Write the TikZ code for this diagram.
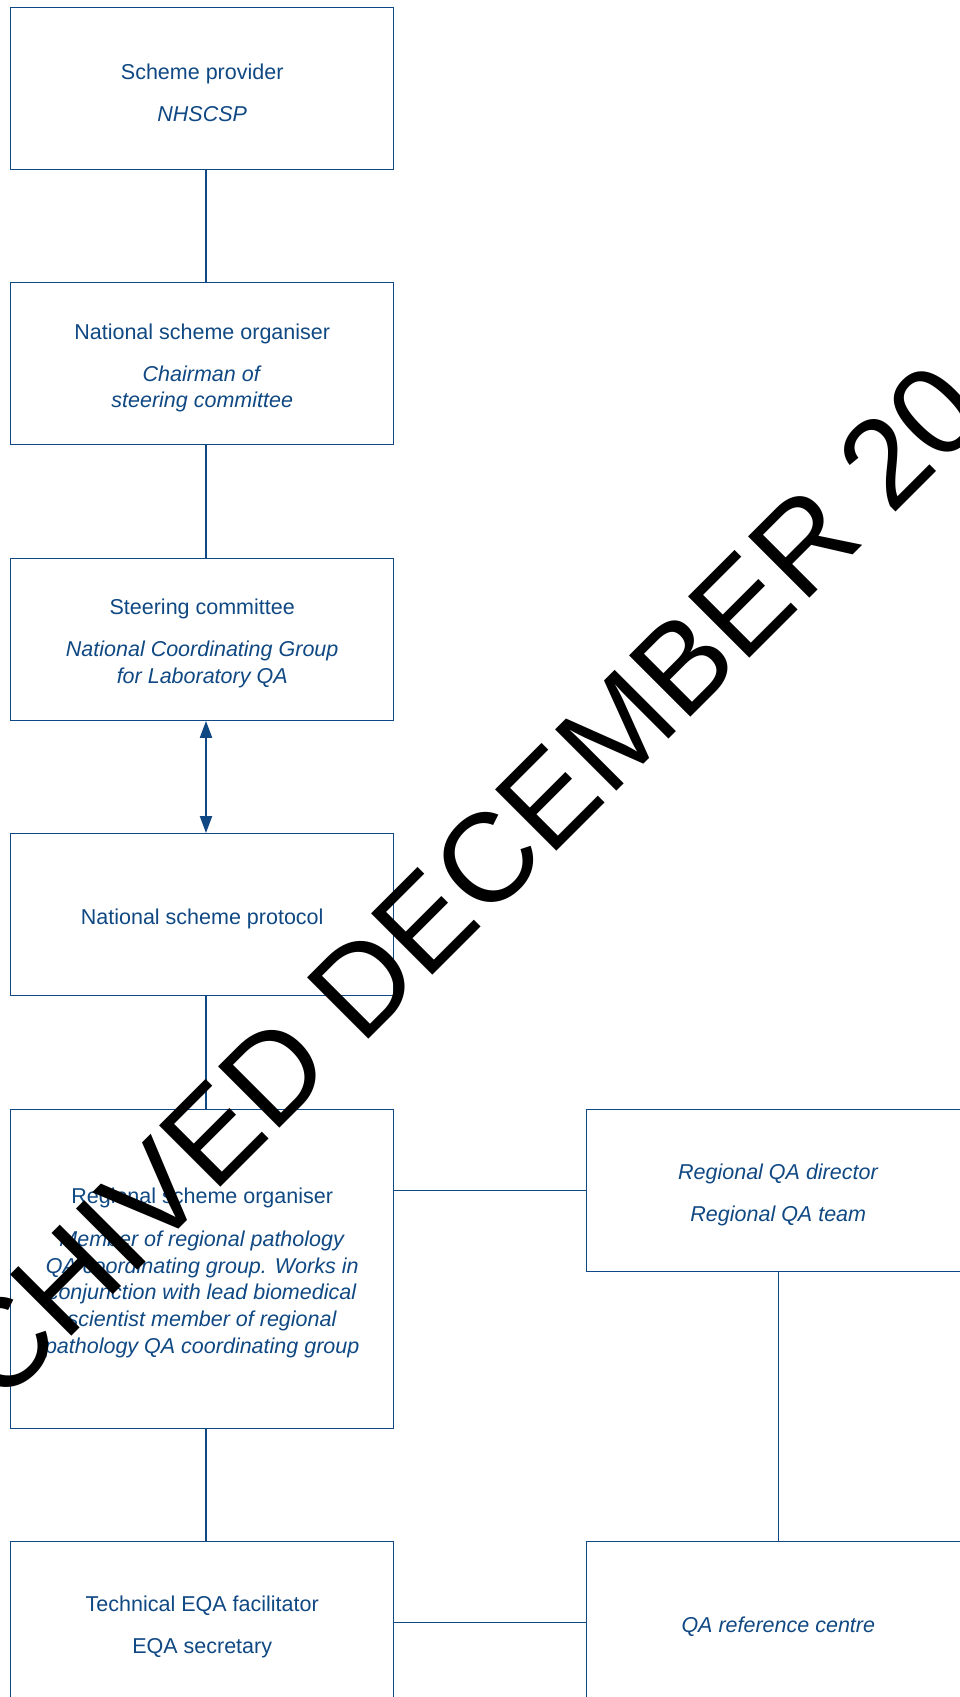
\documentclass[tikz,border=0pt]{standalone}
\usepackage{fontspec}
\setmainfont{Liberation Sans}
\usepackage{tikz}
\usetikzlibrary{arrows.meta}

\definecolor{qablue}{RGB}{15,72,130}
\newcommand{\orgfont}{\fontsize{21.5}{26.7}\selectfont}
\newcommand{\stampfont}{\fontsize{126}{130}\selectfont}
\newcommand{\lift}{\rule{0pt}{24pt}}  % pushes the text a little below the middle

\begin{document}
\begin{tikzpicture}[x=1pt, y=-1pt,  % work in page pixels, y going down
    orgbox/.style={draw=qablue, line width=1.1pt, text=qablue, font=\orgfont,
        minimum width=383pt, minimum height=162pt, inner sep=0pt, align=center},
    orglink/.style={draw=qablue, line width=1.2pt},
    stamp/.style={text=black, font=\stampfont, inner sep=0pt, rotate=45, anchor=base west}]

    % Page frame, everything outside is cut away
    \useasboundingbox (0,0) rectangle (960,1697);
    \clip (0,0) rectangle (960,1697);

    % Left column of the chain
    \node[orgbox] (provider) at (202.2,88.3) {\lift Scheme provider\\[15.3pt]\textit{NHSCSP}};
    \node[orgbox] (organiser) at (202.2,363.8) {\lift National scheme organiser\\[15.3pt]\textit{Chairman of}\\\textit{steering committee}};
    \node[orgbox] (steering) at (202.2,639.3) {\lift Steering committee\\[15.3pt]\textit{National Coordinating Group}\\\textit{for Laboratory QA}};
    \node[orgbox] (protocol) at (202.2,914.6) {\lift National scheme protocol};
    \node[orgbox, minimum height=319pt] (regional) at (202.2,1268.8) {\lift Regional scheme organiser\\[16pt]%
        \textit{Member of regional pathology}\\\textit{QA coordinating group. Works in}\\%
        \textit{conjunction with lead biomedical}\\\textit{scientist member of regional}\\%
        \textit{pathology QA coordinating group}};
    \node[orgbox] (technical) at (202.2,1622.7) {\lift Technical EQA facilitator\\[15.3pt]EQA secretary};

    % Right column
    \node[orgbox] (director) at (778.3,1190.5) {\lift\textit{Regional QA director}\\[15.3pt]\textit{Regional QA team}};
    \node[orgbox] (refcentre) at (778.3,1622.7) {\lift\textit{QA reference centre}};

    % Vertical links on the left (slightly right of the box middle)
    \draw[orglink] ([xshift=3.8pt]provider.south) -- ([xshift=3.8pt]organiser.north);
    \draw[orglink] ([xshift=3.8pt]organiser.south) -- ([xshift=3.8pt]steering.north);
    \draw[orglink, line width=2pt, {Triangle[length=17pt,width=12pt]}-{Triangle[length=17pt,width=12pt]}]
        ([xshift=3.8pt]steering.south) -- ([xshift=3.8pt]protocol.north);
    \draw[orglink] ([xshift=3.8pt]protocol.south) -- ([xshift=3.8pt]regional.north);
    \draw[orglink] ([xshift=3.8pt]regional.south) -- ([xshift=3.8pt]technical.north);

    % Links across and on the right
    \draw[orglink] (director.west -| regional.east) -- (director.west);
    \draw[orglink] (technical.east) -- (refcentre.west);
    \draw[orglink] (director.south) -- (refcentre.north);

    % Archive stamp across the page
    \node[stamp] (archived) at (-123.5,1531.5) {ARCHIVED DECEMBER 20};

\end{tikzpicture}
\end{document}
